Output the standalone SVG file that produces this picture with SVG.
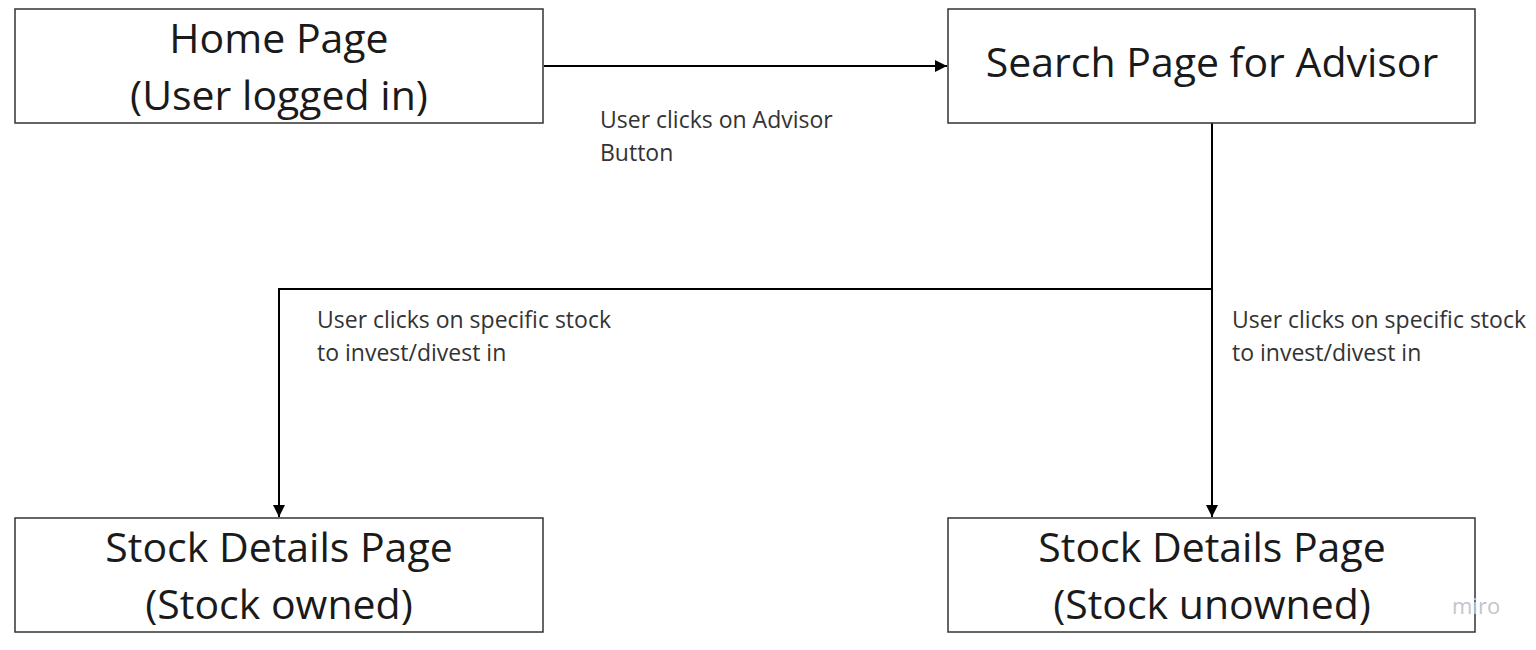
<svg xmlns="http://www.w3.org/2000/svg" width="1536" height="650" viewBox="0 0 1536 650">
<style>
.box{fill:#fff;stroke:#333;stroke-width:1.5}
.t{font-family:"Open Sans","Noto Sans",sans-serif;font-size:41px;fill:#1a1a1a;text-anchor:middle}
.l{font-family:"Open Sans","Noto Sans",sans-serif;font-size:23px;fill:#333}
.c{fill:none;stroke:#000;stroke-width:2}
</style>
<defs>
<marker id="a" markerWidth="12" markerHeight="12" refX="12" refY="6" orient="auto" markerUnits="userSpaceOnUse">
<path d="M0,0 L12,6 L0,12 Z" fill="#000"/>
</marker>
</defs>
<rect width="1536" height="650" fill="#fff"/>
<g id="connectors">
<path class="c" d="M544,66 H947" marker-end="url(#a)"/>
<path class="c" d="M1212,123 V517" marker-end="url(#a)"/>
<path class="c" d="M1212,289 H279 V517" marker-end="url(#a)"/>
<text class="l" x="600" y="128">User clicks on Advisor</text>
<text class="l" x="600" y="161">Button</text>
<text class="l" x="317" y="328">User clicks on specific stock</text>
<text class="l" x="317" y="361">to invest/divest in</text>
<text class="l" x="1232" y="328">User clicks on specific stock</text>
<text class="l" x="1232" y="361">to invest/divest in</text>
</g>
<g id="home">
<rect class="box" x="15" y="9" width="528" height="114"/>
<text class="t" x="279" y="53">Home Page</text>
<text class="t" x="279" y="110">(User logged in)</text>
</g>
<g id="search">
<rect class="box" x="948" y="9" width="527" height="114"/>
<text class="t" x="1212" y="77">Search Page for Advisor</text>
</g>
<g id="owned">
<rect class="box" x="15" y="518" width="528" height="114"/>
<text class="t" x="279" y="562">Stock Details Page</text>
<text class="t" x="279" y="619">(Stock owned)</text>
</g>
<g id="unowned">
<rect class="box" x="948" y="518" width="527" height="114"/>
<text class="t" x="1212" y="562">Stock Details Page</text>
<text class="t" x="1212" y="619">(Stock unowned)</text>
</g>
<text x="1452" y="614" font-family="Open Sans,sans-serif" font-size="22" fill="#c4c4ca">miro</text>
</svg>
